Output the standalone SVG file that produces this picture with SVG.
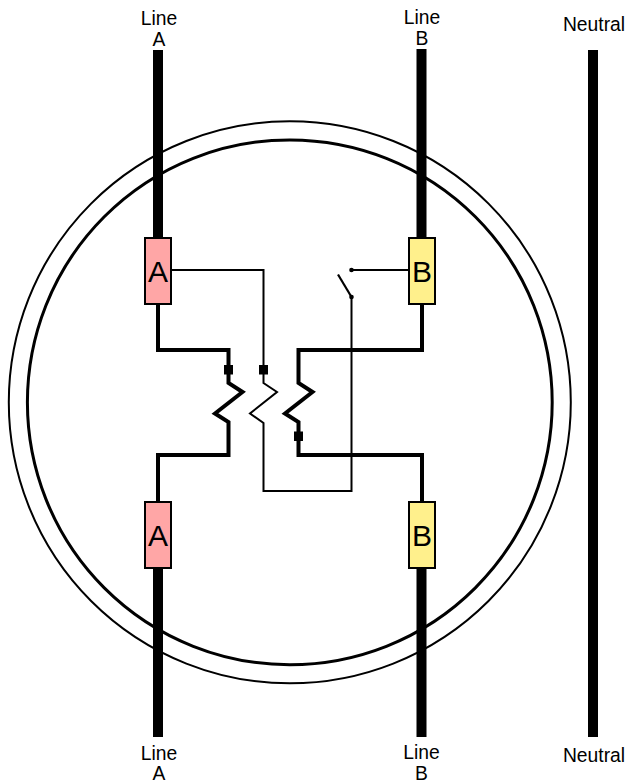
<svg xmlns="http://www.w3.org/2000/svg" width="626" height="781" viewBox="0 0 626 781">
<style>
.bus{fill:#000}
.thick{fill:none;stroke:#000;stroke-width:4}
.thin{fill:none;stroke:#000;stroke-width:2}
.lbl{font-family:"Liberation Sans",Arial,sans-serif;font-size:19.300px;fill:#000;text-anchor:middle}
.big{font-family:"Liberation Sans",Arial,sans-serif;font-size:30px;fill:#000;text-anchor:middle}
.box{stroke:#000;stroke-width:2}
.a{fill:#ffa6a6}
.b{fill:#fff08c}
</style>
<rect width="626" height="781" fill="#fff"/>
<g id="enclosure">
<circle cx="289.800" cy="402.300" r="281" fill="none" stroke="#000" stroke-width="2"/>
<circle cx="289.800" cy="402.300" r="262.400" fill="none" stroke="#000" stroke-width="3"/>
</g>
<g id="buses">
<rect class="bus" x="153" y="50" width="10" height="188"/>
<rect class="bus" x="153" y="568" width="10" height="169"/>
<rect class="bus" x="416.500" y="49" width="10" height="189"/>
<rect class="bus" x="416.500" y="568" width="10" height="169"/>
<rect class="bus" x="588" y="50" width="10" height="687"/>
</g>
<g id="connectors">
<path class="thick" d="M158 303V350H228.500V383L242.500 392L215 413.500L228.500 422V455H158V502"/>
<path class="thick" d="M422 303V350H298.500V383L312.500 392L285 413.500L298.500 422V455H422V502"/>
<path class="thin" d="M171 270H263.500V383L277 392L250 413.500L263.500 423V491H351.500V297"/>
<path class="thin" d="M351.500 270H408"/>
<path d="M338 274.500L351.500 297" fill="none" stroke="#000" stroke-width="2.200"/>
<circle cx="351.500" cy="270" r="2.300"/>
<circle cx="351.500" cy="297" r="2.300"/>
<rect x="224" y="365" width="9" height="9.500"/>
<rect x="259" y="365" width="9" height="9.500"/>
<rect x="294" y="431.500" width="9" height="9.500"/>
</g>
<g id="breaker-a-top"><rect class="box a" x="145" y="238" width="26" height="66"/><text class="big" x="158" y="282">A</text></g>
<g id="breaker-b-top"><rect class="box b" x="409" y="238" width="26" height="66"/><text class="big" x="422" y="282">B</text></g>
<g id="breaker-a-bottom"><rect class="box a" x="145" y="502" width="26" height="66"/><text class="big" x="158" y="546">A</text></g>
<g id="breaker-b-bottom"><rect class="box b" x="409" y="502" width="26" height="66"/><text class="big" x="422" y="546">B</text></g>
<g id="labels">
<text class="lbl" x="159" y="24.500">Line</text><text class="lbl" x="159" y="46">A</text>
<text class="lbl" x="422" y="24">Line</text><text class="lbl" x="422" y="45">B</text>
<text class="lbl" x="594" y="31">Neutral</text>
<text class="lbl" x="159" y="760">Line</text><text class="lbl" x="159" y="780">A</text>
<text class="lbl" x="421.500" y="759">Line</text><text class="lbl" x="421.500" y="780">B</text>
<text class="lbl" x="594" y="762">Neutral</text>
</g>
</svg>
